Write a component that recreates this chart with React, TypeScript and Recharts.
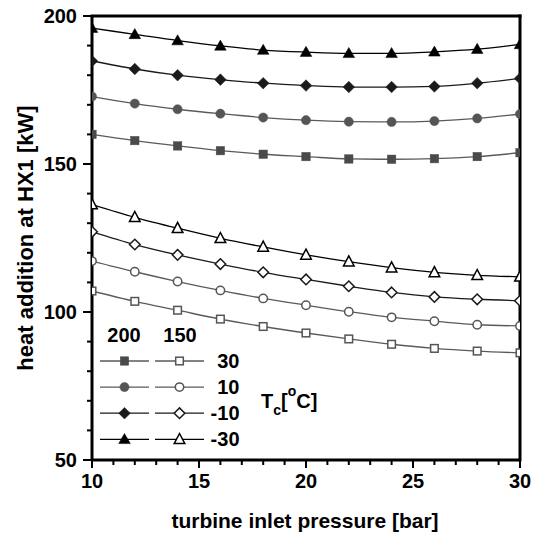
import React from 'react';
import { LineChart, Line, XAxis, YAxis, ReferenceLine, Customized } from 'recharts';

const PRESSURE = [10, 12, 14, 16, 18, 20, 22, 24, 26, 28, 30];
const X_TICKS = [10, 11, 12, 13, 14, 15, 16, 17, 18, 19, 20, 21, 22, 23, 24, 25, 26, 27, 28, 29, 30];
const Y_TICKS = [50, 60, 70, 80, 90, 100, 110, 120, 130, 140, 150, 160, 170, 180, 190, 200];

// 200 °C turbine inlet temperature (filled markers)
const T200_C30 = [160.0, 157.9, 156.1, 154.5, 153.3, 152.5, 151.7, 151.6, 151.8, 152.5, 153.8];
const T200_C10 = [172.8, 170.4, 168.5, 167.0, 165.7, 164.8, 164.3, 164.2, 164.5, 165.4, 166.9];
const T200_CM10 = [184.8, 182.1, 180.0, 178.5, 177.3, 176.5, 176.0, 176.0, 176.2, 177.3, 178.9];
const T200_CM30 = [195.9, 193.8, 191.7, 189.9, 188.5, 187.8, 187.4, 187.4, 187.9, 188.8, 190.4];
// 150 °C turbine inlet temperature (open markers)
const T150_C30 = [107.1, 103.6, 100.6, 97.6, 95.1, 92.9, 90.9, 89.1, 87.7, 86.8, 86.2];
const T150_C10 = [117.2, 113.6, 110.3, 107.3, 104.6, 102.3, 100.1, 98.2, 96.9, 95.7, 95.3];
const T150_CM10 = [127.1, 122.8, 119.3, 116.2, 113.4, 111.0, 108.7, 106.6, 105.1, 104.3, 103.8];
const T150_CM30 = [136.3, 132.0, 128.3, 124.9, 122.0, 119.3, 117.0, 115.0, 113.4, 112.4, 111.9];

const LEGEND_TC = ['30', '10', '-10', '-30'];
const HEADERS = ['200', '150'];

const data = PRESSURE.map((p, i) => ({
  p,
  a30: T200_C30[i], a10: T200_C10[i], am10: T200_CM10[i], am30: T200_CM30[i],
  b30: T150_C30[i], b10: T150_C10[i], bm10: T150_CM10[i], bm30: T150_CM30[i],
}));

type Shape = 'square' | 'circle' | 'diamond' | 'triangle';

const Marker = ({ shape, cx, cy, color, filled }: { shape: Shape; cx: number; cy: number; color: string; filled: boolean }) => {
  const fill = filled ? color : '#fff';
  const sw = filled ? 0.5 : 1.5;
  if (shape === 'square') {
    const h = filled ? 4.2 : 3.8;
    return <rect x={cx - h} y={cy - h} width={2 * h} height={2 * h} fill={fill} stroke={color} strokeWidth={sw} />;
  }
  if (shape === 'circle') {
    return <circle cx={cx} cy={cy} r={filled ? 4.6 : 4.2} fill={fill} stroke={color} strokeWidth={sw} />;
  }
  if (shape === 'diamond') {
    const d = filled ? 5.8 : 5.3;
    return <polygon points={`${cx},${cy - d} ${cx + d},${cy} ${cx},${cy + d} ${cx - d},${cy}`} fill={fill} stroke={color} strokeWidth={sw} />;
  }
  const w = filled ? 5.8 : 5.3;
  return <polygon points={`${cx},${cy - 5.8} ${cx + w},${cy + 4.3} ${cx - w},${cy + 4.3}`} fill={fill} stroke={color} strokeWidth={sw} strokeLinejoin="miter" />;
};

const SERIES: { key: string; shape: Shape; line: string; mark: string; filled: boolean }[] = [
  { key: 'a30', shape: 'square', line: '#5a5a5a', mark: '#4a4a4a', filled: true },
  { key: 'a10', shape: 'circle', line: '#5a5a5a', mark: '#555555', filled: true },
  { key: 'am10', shape: 'diamond', line: '#1a1a1a', mark: '#1a1a1a', filled: true },
  { key: 'am30', shape: 'triangle', line: '#000000', mark: '#000000', filled: true },
  { key: 'b30', shape: 'square', line: '#5a5a5a', mark: '#555555', filled: false },
  { key: 'b10', shape: 'circle', line: '#5a5a5a', mark: '#555555', filled: false },
  { key: 'bm10', shape: 'diamond', line: '#1a1a1a', mark: '#1a1a1a', filled: false },
  { key: 'bm30', shape: 'triangle', line: '#000000', mark: '#000000', filled: false },
];

const FONT = '"Liberation Sans", Arial, sans-serif';

const XTick = (props: any) => {
  const { x, y, payload } = props;
  const v = payload.value;
  const major = v % 5 === 0;
  return (
    <g>
      <line x1={x} y1={y} x2={x} y2={y + (major ? 8 : 5)} stroke="#000" strokeWidth={2} />
      {major && (
        <text x={x} y={y + 28} textAnchor="middle" fontSize={20} fontWeight="bold" fontFamily={FONT} fill="#000">
          {v}
        </text>
      )}
    </g>
  );
};

const YTick = (props: any) => {
  const { x, y, payload } = props;
  const v = payload.value;
  const major = v % 50 === 0;
  return (
    <g>
      <line x1={x - (major ? 9 : 5)} y1={y} x2={x} y2={y} stroke="#000" strokeWidth={2} />
      {major && (
        <text x={x - 15} y={y + 7} textAnchor="end" fontSize={20} fontWeight="bold" fontFamily={FONT} fill="#000">
          {v}
        </text>
      )}
    </g>
  );
};

const LegendBlock = () => {
  const rows = [0, 1, 2, 3];
  return (
    <g fontFamily={FONT} fontWeight="bold">
      <text x={124} y={342} textAnchor="middle" fontSize={20}>{HEADERS[0]}</text>
      <text x={180} y={342} textAnchor="middle" fontSize={20}>{HEADERS[1]}</text>
      {rows.map((i) => {
        const y = 361 + i * 26.1;
        const sA = SERIES[i];
        const sB = SERIES[i + 4];
        return (
          <g key={i}>
            <line x1={100} y1={y} x2={149} y2={y} stroke={sA.line} strokeWidth={1.3} />
            <Marker shape={sA.shape} cx={124.5} cy={y} color={sA.mark} filled />
            <line x1={155} y1={y} x2={204} y2={y} stroke={sB.line} strokeWidth={1.3} />
            <Marker shape={sB.shape} cx={179.5} cy={y} color={sB.mark} filled={false} />
            <text x={239.5} y={y + 7} textAnchor="end" fontSize={20}>{LEGEND_TC[i]}</text>
          </g>
        );
      })}
      <text x={261} y={408} fontSize={20}>
        T<tspan fontSize={14} dy={7}>c</tspan>
        <tspan fontSize={20} dy={-7}>[</tspan>
        <tspan fontSize={14} dy={-12}>o</tspan>
        <tspan fontSize={20} dy={12}>C]</tspan>
      </text>
      <text x={305} y={528} textAnchor="middle" fontSize={21}>turbine inlet pressure [bar]</text>
      <text x={33} y={238} textAnchor="middle" fontSize={22} transform="rotate(-90 33 238)">heat addition at HX1 [kW]</text>
    </g>
  );
};

export default function App() {
  return (
    <div style={{ width: 544, height: 535, margin: '-8px 0 0 -8px', background: '#fff' }}>
      <LineChart width={544} height={535} data={data} margin={{ top: 16, right: 24, left: 8, bottom: 0 }} style={{ fontFamily: FONT }}>
        <XAxis
          dataKey="p"
          type="number"
          domain={[10, 30]}
          ticks={X_TICKS}
          interval={0}
          allowDataOverflow
          height={75}
          tickSize={0}
          tickMargin={0}
          tickLine={false}
          tick={<XTick />}
          axisLine={{ stroke: '#000', strokeWidth: 3 }}
        />
        <YAxis
          type="number"
          domain={[50, 200]}
          ticks={Y_TICKS}
          interval={0}
          allowDataOverflow
          width={84}
          tickSize={0}
          tickMargin={0}
          tickLine={false}
          tick={<YTick />}
          axisLine={{ stroke: '#000', strokeWidth: 3 }}
        />
        <ReferenceLine y={200} stroke="#000" strokeWidth={3} strokeLinecap="square" />
        <ReferenceLine x={30} stroke="#000" strokeWidth={3} strokeLinecap="square" />
        {SERIES.map((s) => (
          <Line
            key={s.key}
            dataKey={s.key}
            type="monotone"
            stroke={s.line}
            strokeWidth={1.3}
            isAnimationActive={false}
            activeDot={false}
            dot={(props: any) => (
              <Marker key={`${s.key}-${props.index}`} shape={s.shape} cx={props.cx} cy={props.cy} color={s.mark} filled={s.filled} />
            )}
          />
        ))}
        <Customized component={<LegendBlock />} />
      </LineChart>
    </div>
  );
}
